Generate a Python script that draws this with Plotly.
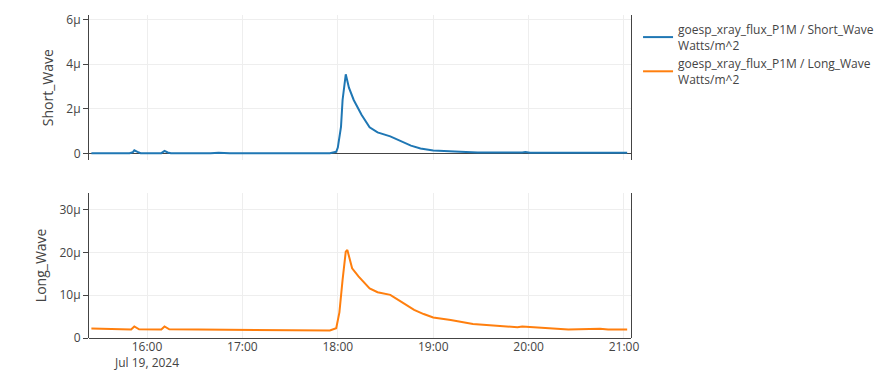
import plotly.graph_objects as go
from plotly.subplots import make_subplots

DAY = "2024-07-19 "

short_times = ["15:25", "15:49", "15:51", "15:52", "15:54", "15:56", "16:09", "16:11", "16:13", "16:15",
               "16:40", "16:45", "16:52", "17:30", "17:55", "17:59", "18:00", "18:02", "18:03", "18:05",
               "18:07", "18:10", "18:15", "18:20", "18:25", "18:33", "18:39", "18:46", "18:52", "19:00",
               "19:17", "19:28", "19:56", "19:58", "20:01", "20:30", "21:02"]
short_vals = [0.02, 0.02, 0.06, 0.15, 0.08, 0.02, 0.02, 0.12, 0.05, 0.02,
              0.02, 0.04, 0.02, 0.01, 0.02, 0.08, 0.27, 1.2, 2.4, 3.55,
              2.95, 2.4, 1.73, 1.18, 0.95, 0.77, 0.59, 0.36, 0.23, 0.14,
              0.09, 0.05, 0.05, 0.07, 0.04, 0.03, 0.04]

long_times = ["15:25", "15:35", "15:50", "15:52", "15:55", "16:09", "16:11", "16:14", "16:30", "16:55",
              "17:10", "17:55", "17:59", "18:01", "18:03", "18:05", "18:06", "18:07", "18:09", "18:13",
              "18:16", "18:20", "18:25", "18:33", "18:39", "18:48", "18:54", "19:00", "19:11", "19:25",
              "19:42", "19:53", "19:56", "20:07", "20:14", "20:25", "20:45", "20:50", "21:02"]
long_vals = [2.2, 2.05, 2.0, 2.7, 2.05, 2.0, 2.7, 2.05, 2.0, 2.0,
             1.8, 1.75, 2.3, 6.0, 13.6, 20.2, 20.6, 19.0, 16.3, 14.4,
             13.2, 11.6, 10.7, 10.1, 8.7, 6.6, 5.6, 4.8, 4.2, 3.3,
             2.8, 2.5, 2.7, 2.4, 2.2, 2.0, 2.15, 2.0, 2.0]

short_x = [DAY + t for t in short_times]
long_x = [DAY + t for t in long_times]
short_y = [v * 1e-6 for v in short_vals]
long_y = [v * 1e-6 for v in long_vals]

fig = make_subplots(rows=2, cols=1, shared_xaxes=True, vertical_spacing=0.1)
fig.add_trace(go.Scatter(x=short_x, y=short_y, mode="lines",
                         name="goesp_xray_flux_P1M / Short_Wave<br>Watts/m^2",
                         line=dict(color="#1f77b4", width=2)), row=1, col=1)
fig.add_trace(go.Scatter(x=long_x, y=long_y, mode="lines",
                         name="goesp_xray_flux_P1M / Long_Wave<br>Watts/m^2",
                         line=dict(color="#ff7f0e", width=2)), row=2, col=1)

fig.update_layout(
    width=891, height=379,
    margin=dict(l=89, r=260, t=15, b=41, autoexpand=False),
    paper_bgcolor="white", plot_bgcolor="white",
    font=dict(family="Open Sans, verdana, arial, sans-serif", color="#444", size=12),
    legend=dict(x=1.013, y=1, xanchor="left", yanchor="top", font=dict(size=12)),
    showlegend=True,
)
xr = [DAY + "15:23:30", DAY + "21:04:25"]
for r in (1, 2):
    fig.update_xaxes(range=xr, showgrid=True, gridcolor="#eeeeee", showline=False,
                     zeroline=False, automargin=False, dtick=3600000, tick0=DAY + "16:00",
                     row=r, col=1)
fig.update_xaxes(tickformat="%H:%M\n%b %d, %Y", row=2, col=1)

fig.update_yaxes(range=[-0.3e-6, 6.2e-6], dtick=2e-6, row=1, col=1,
                 title=dict(text="Short_Wave", font=dict(size=14), standoff=9))
fig.update_yaxes(range=[0, 34e-6], dtick=10e-6, row=2, col=1,
                 title=dict(text="Long_Wave", font=dict(size=14), standoff=9))
fig.update_yaxes(showgrid=True, gridcolor="#eeeeee", showline=True, linecolor="#444",
                 linewidth=1, mirror=True, ticks="outside", ticklen=5, tickcolor="#444",
                 zeroline=True, zerolinecolor="#444", zerolinewidth=1, automargin=False)

fig.write_html("out.html")
